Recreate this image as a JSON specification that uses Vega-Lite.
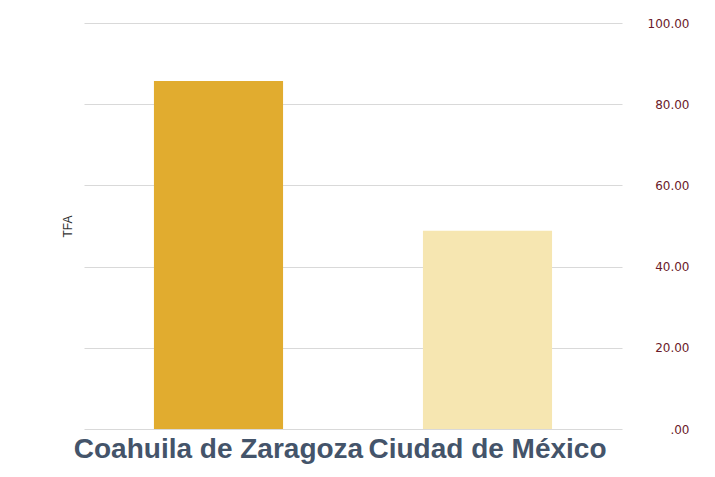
{
  "$schema": "https://vega.github.io/schema/vega-lite/v6.json",
  "autosize": "none",
  "width": 538,
  "height": 406,
  "padding": {"left": 84, "top": 23, "right": 93, "bottom": 48},
  "background": "#ffffff",
  "data": {"values": [
    {"estado": "Coahuila de Zaragoza", "TFA": 85.7},
    {"estado": "Ciudad de México", "TFA": 48.8}
  ]},
  "config": {"view": {"stroke": null}},
  "resolve": {"axis": {"y": "independent"}},
  "layer": [
    {
      "mark": {"type": "bar"},
      "encoding": {
        "x": {
          "field": "estado", "type": "nominal", "sort": null,
          "scale": {"paddingInner": 0.52, "paddingOuter": 0.26},
          "axis": {"title": null, "labelAngle": 0, "labelFontSize": 28, "labelFontWeight": "bold",
                   "labelFont": "Liberation Sans", "labelColor": "#44546A", "labelPadding": 6,
                   "ticks": false, "domain": false, "labelLimit": 400}
        },
        "y": {
          "field": "TFA", "type": "quantitative",
          "scale": {"domain": [0, 100]},
          "axis": {"orient": "right", "title": null, "values": [0, 20, 40, 60, 80, 100],
                   "labelExpr": "datum.value == 0 ? '.00' : format(datum.value, '.2f')",
                   "labelColor": "#6b1a2a", "labelFont": "DejaVu Sans", "labelFontSize": 12,
                   "labelAlign": "right", "labelPadding": 67, "ticks": false, "domain": false,
                   "gridColor": "#d9d9d9", "gridWidth": 1}
        },
        "color": {
          "field": "estado", "type": "nominal", "sort": null, "legend": null,
          "scale": {"domain": ["Coahuila de Zaragoza", "Ciudad de México"], "range": ["#E1AC2F", "#F6E6B1"]}
        }
      }
    },
    {
      "mark": {"type": "bar", "opacity": 0},
      "encoding": {
        "x": {"field": "estado", "type": "nominal", "sort": null},
        "y": {
          "field": "TFA", "type": "quantitative",
          "axis": {"orient": "left", "title": "TFA", "labels": false, "ticks": false, "domain": false,
                   "grid": false, "titleFont": "Liberation Sans", "titleFontSize": 12,
                   "titleFontWeight": "normal", "titleColor": "#333333", "titlePadding": 10}
        }
      }
    }
  ]
}
